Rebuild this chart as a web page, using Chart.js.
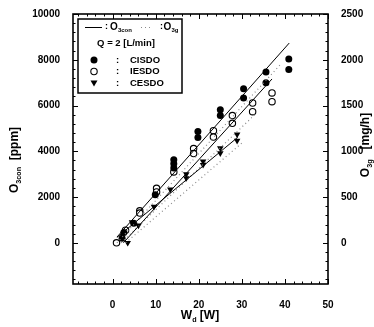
<!DOCTYPE html>
<html>
<head>
<meta charset="utf-8">
<script src="https://cdn.jsdelivr.net/npm/chart.js@4.4.0/dist/chart.umd.min.js"></script>
<style>body{margin:0;background:#fff}</style>
</head>
<body>
<canvas id="grafica" width="374" height="327"></canvas>
<script>
// puntos medidos, W_d [W] contra O3con [ppm]
const wdCisdo = [2.2, 2.6, 4.9, 9.9, 14.2, 14.2, 14.2, 19.8, 19.8, 25.0, 25.0, 30.4, 30.4, 35.6, 35.6, 40.9, 40.9];
const o3Cisdo = [200, 450, 860, 2100, 3630, 3460, 3270, 4870, 4600, 5820, 5560, 6730, 6330, 7470, 6990, 8030, 7570];

const wdIesdo = [0.9, 3.0, 6.3, 6.3, 10.2, 10.2, 14.2, 18.8, 18.8, 23.4, 23.4, 27.8, 27.8, 32.5, 32.5, 37.0, 37.0];
const o3Iesdo = [0, 550, 1400, 1300, 2380, 2220, 3100, 4120, 3900, 4900, 4620, 5560, 5220, 6110, 5730, 6550, 6170];

const wdCesdo = [3.5, 4.5, 6.0, 9.6, 13.4, 17.1, 17.1, 21.0, 21.0, 25.0, 25.0, 28.9, 28.9];
const o3Cesdo = [0, 900, 760, 1580, 2330, 3000, 2830, 3560, 3410, 4140, 3920, 4740, 4460];

// rectas O3con (eje izquierdo, ppm)
const conCisdoX = [1, 41];
const conCisdoY = [250, 8730];
const conIesdoX = [2.5, 37];
const conIesdoY = [0, 7160];
const conCesdoX = [1, 29];
const conCesdoY = [236, 4604];

// rectas O3g (eje derecho, mg/h)
const gCisdoX = [1, 39];
const gCisdoY = [0, 1950];
const gIesdoX = [2, 33];
const gIesdoY = [0, 1400];
const gCesdoX = [3, 30];
const gCesdoY = [0, 1090];

const xTicks = [0, 10, 20, 30, 40, 50];
const yTicks = [0, 2000, 4000, 6000, 8000, 10000];
const y2Ticks = [0, 500, 1000, 1500, 2000, 2500];

const FONT = '"Liberation Sans", Arial, sans-serif';

function pares(xs, ys) {
    return xs.map(function (x, i) { return { x: x, y: ys[i] }; });
}

function recta(xs, ys, eje, punteada) {
    return {
        data: pares(xs, ys),
        yAxisID: eje,
        showLine: true,
        borderColor: punteada ? '#8a8a8a' : '#000',
        borderWidth: punteada ? 1.2 : 1,
        borderDash: punteada ? [1, 3] : [],
        pointRadius: 0,
        fill: false
    };
}

// texto con subindice, opcionalmente rotado
function textoSub(ctx, partes, cx, cy, rot, size) {
    ctx.save();
    ctx.translate(cx, cy);
    ctx.rotate(rot);
    let total = 0;
    partes.forEach(function (p) {
        ctx.font = 'bold ' + (p.sub ? size * 0.6 : size) + 'px ' + FONT;
        total += ctx.measureText(p.t).width;
    });
    let x = -total / 2;
    ctx.textBaseline = 'middle';
    ctx.textAlign = 'left';
    ctx.fillStyle = '#000';
    partes.forEach(function (p) {
        ctx.font = 'bold ' + (p.sub ? size * 0.6 : size) + 'px ' + FONT;
        ctx.fillText(p.t, x, p.sub ? size * 0.35 : 0);
        x += ctx.measureText(p.t).width;
    });
    ctx.restore();
}

function marca(ctx, tipo, x, y) {
    ctx.save();
    ctx.fillStyle = '#000';
    ctx.strokeStyle = '#000';
    ctx.lineWidth = 1.1;
    if (tipo === 'lleno') {
        ctx.beginPath(); ctx.arc(x, y, 3.5, 0, Math.PI * 2); ctx.fill();
    } else if (tipo === 'vacio') {
        ctx.beginPath(); ctx.arc(x, y, 3.2, 0, Math.PI * 2);
        ctx.fillStyle = '#fff'; ctx.fill(); ctx.stroke();
    } else {
        ctx.beginPath(); ctx.moveTo(x - 3.5, y - 2.5); ctx.lineTo(x + 3.5, y - 2.5); ctx.lineTo(x, y + 3.5);
        ctx.closePath(); ctx.fill();
    }
    ctx.restore();
}

const decoracion = {
    id: 'decoracion',
    afterDraw: function (chart) {
        const ctx = chart.ctx;
        const a = chart.chartArea;
        const sx = chart.scales.x, sy = chart.scales.y, sy2 = chart.scales.y2;
        ctx.save();
        ctx.strokeStyle = '#000';
        // marcas hacia dentro
        ctx.lineWidth = 1;
        for (let v = -8; v <= 50; v += 2) {
            const px = Math.round(sx.getPixelForValue(v)) + 0.5;
            const l = (v % 10 === 0) ? 5 : 2.5;
            ctx.beginPath();
            ctx.moveTo(px, a.bottom); ctx.lineTo(px, a.bottom - l);
            ctx.moveTo(px, a.top); ctx.lineTo(px, a.top + l);
            ctx.stroke();
        }
        for (let v = -1600; v <= 10000; v += 400) {
            const py = Math.round(sy.getPixelForValue(v)) + 0.5;
            const l = (v % 2000 === 0) ? 5 : 2.5;
            ctx.beginPath();
            ctx.moveTo(a.left, py); ctx.lineTo(a.left + l, py);
            ctx.stroke();
        }
        for (let v = -400; v <= 2500; v += 100) {
            const py = Math.round(sy2.getPixelForValue(v)) + 0.5;
            const l = (v % 500 === 0) ? 5 : 2.5;
            ctx.beginPath();
            ctx.moveTo(a.right, py); ctx.lineTo(a.right - l, py);
            ctx.stroke();
        }
        // marco
        ctx.lineWidth = 1.6;
        ctx.strokeRect(a.left, a.top, a.right - a.left, a.bottom - a.top);

        // leyenda
        ctx.lineWidth = 1.5;
        ctx.fillStyle = '#fff';
        ctx.fillRect(78, 19, 104, 74);
        ctx.strokeRect(78, 19, 104, 74);
        ctx.lineWidth = 1;
        ctx.beginPath(); ctx.moveTo(85, 27.5); ctx.lineTo(102, 27.5); ctx.stroke();
        ctx.strokeStyle = '#8a8a8a';
        ctx.setLineDash([1, 3]);
        ctx.beginPath(); ctx.moveTo(141, 27.5); ctx.lineTo(153, 27.5); ctx.stroke();
        ctx.setLineDash([]);
        ctx.fillStyle = '#000';
        ctx.font = 'bold 9px ' + FONT;
        ctx.textBaseline = 'middle';
        ctx.textAlign = 'left';
        ctx.fillText(':', 105, 27);
        ctx.fillText(':', 160, 27);
        ctx.restore();
        textoSub(ctx, [{ t: 'O' }, { t: '3con', sub: true }], 121, 27, 0, 10);
        textoSub(ctx, [{ t: 'O' }, { t: '3g', sub: true }], 171, 27, 0, 10);
        ctx.save();
        ctx.fillStyle = '#000';
        ctx.font = 'bold 9.5px ' + FONT;
        ctx.textBaseline = 'middle';
        ctx.textAlign = 'center';
        ctx.fillText('Q = 2 [L/min]', 126, 43);
        ctx.textAlign = 'left';
        const filas = [['lleno', 'CISDO', 60], ['vacio', 'IESDO', 71.5], ['tri', 'CESDO', 83]];
        filas.forEach(function (f) {
            marca(ctx, f[0], 94, f[2]);
            ctx.fillText(':', 116, f[2]);
            ctx.fillText(f[1], 130, f[2]);
        });
        ctx.restore();

        // titulos de ejes
        textoSub(ctx, [{ t: 'O' }, { t: '3con', sub: true }, { t: '  [ppm]' }], 15, 160, -Math.PI / 2, 12);
        textoSub(ctx, [{ t: 'O' }, { t: '3g', sub: true }, { t: '   [mg/h]' }], 366, 145, -Math.PI / 2, 12);
        textoSub(ctx, [{ t: 'W' }, { t: 'd', sub: true }, { t: ' [W]' }], 200, 316, 0, 12);
    }
};

const ejeTicks = {
    color: '#000',
    font: { family: FONT, size: 10, weight: 'bold' },
    callback: function (v) { return String(v); }
};

new Chart(document.getElementById('grafica'), {
    type: 'scatter',
    data: {
        datasets: [
            recta(conCisdoX, conCisdoY, 'y', false),
            recta(conIesdoX, conIesdoY, 'y', false),
            recta(conCesdoX, conCesdoY, 'y', false),
            recta(gCisdoX, gCisdoY, 'y2', true),
            recta(gIesdoX, gIesdoY, 'y2', true),
            recta(gCesdoX, gCesdoY, 'y2', true),
            {
                data: pares(wdCisdo, o3Cisdo), yAxisID: 'y',
                pointStyle: 'circle', pointRadius: 3.5,
                backgroundColor: '#000', borderColor: '#000', borderWidth: 0
            },
            {
                data: pares(wdIesdo, o3Iesdo), yAxisID: 'y',
                pointStyle: 'circle', pointRadius: 3.2,
                backgroundColor: '#fff', borderColor: '#000', borderWidth: 1.1
            },
            {
                data: pares(wdCesdo, o3Cesdo), yAxisID: 'y',
                pointStyle: 'triangle', pointRotation: 180, pointRadius: 3.8,
                backgroundColor: '#000', borderColor: '#000', borderWidth: 0
            }
        ]
    },
    options: {
        responsive: false,
        animation: false,
        events: [],
        layout: { padding: { top: 14, left: 0, right: 0, bottom: 0 } },
        plugins: { legend: { display: false }, tooltip: { enabled: false } },
        scales: {
            x: {
                type: 'linear', min: -9.2, max: 50,
                grid: { display: false }, border: { display: false },
                afterBuildTicks: function (s) { s.ticks = xTicks.map(function (v) { return { value: v }; }); },
                afterFit: function (s) { s.height = 43; },
                ticks: Object.assign({ padding: 7, maxRotation: 0 }, ejeTicks)
            },
            y: {
                type: 'linear', position: 'left', min: -1800, max: 10000,
                grid: { display: false }, border: { display: false },
                afterBuildTicks: function (s) { s.ticks = yTicks.map(function (v) { return { value: v }; }); },
                afterFit: function (s) { s.width = 73; },
                ticks: Object.assign({ padding: 5 }, ejeTicks)
            },
            y2: {
                type: 'linear', position: 'right', min: -450, max: 2500,
                grid: { display: false }, border: { display: false },
                afterBuildTicks: function (s) { s.ticks = y2Ticks.map(function (v) { return { value: v }; }); },
                afterFit: function (s) { s.width = 46; },
                ticks: Object.assign({ padding: 5 }, ejeTicks)
            }
        }
    },
    plugins: [decoracion]
});
</script>
</body>
</html>
